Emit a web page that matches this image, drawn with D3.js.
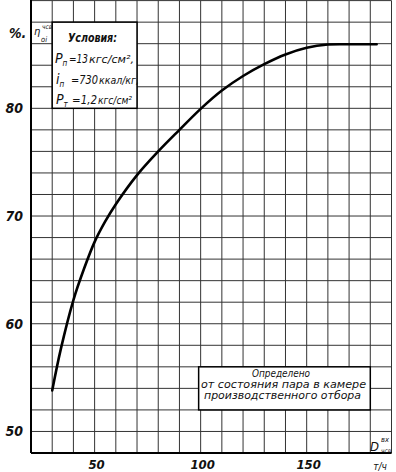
<!DOCTYPE html>
<html><head><meta charset="utf-8">
<script src="https://cdn.jsdelivr.net/npm/d3@7"></script>
<style>
html,body{margin:0;padding:0;background:#fff;}
text{font-family:"DejaVu Sans Condensed","DejaVu Sans",sans-serif;font-style:oblique;fill:#111;}
</style></head>
<body>
<svg id="c" width="396" height="472"></svg>
<script>
// Data
const flowValues = [30, 34, 40, 45, 50, 55, 60, 70, 80, 90, 100, 110, 120, 130, 140, 150, 160, 170, 183];
const efficiencyValues = [53.8, 57.6, 62.2, 65.1, 67.6, 69.5, 71.1, 73.8, 76.0, 78.0, 79.95, 81.65, 83.0, 84.1, 85.0, 85.62, 85.92, 85.95, 85.95];
const xTickLabels = [50, 100, 150];
const yTickLabels = [50, 60, 70, 80];
const xDomain = [20, 190];
const yDomain = [48, 90];
const conditionLines = [
  {sym: "P", sub: "п", val: "=13", unit: "кгс/см²,"},
  {sym: "i", sub: "п", val: "=730", unit: "ккал/кг,"},
  {sym: "P", sub: "т", val: "=1,2", unit: "кгс/см²"}
];
const noteLines = ["Определено", "от состояния пара в камере", "производственного   отбора"];

const svg = d3.select("#c");
const x = d3.scaleLinear().domain(xDomain).range([31, 391.5]);
const y = d3.scaleLinear().domain(yDomain).range([453, 0.6]);

// grid
const g = svg.append("g");
g.selectAll("line.v").data(d3.range(xDomain[0], xDomain[1] + 0.1, 10)).join("line")
  .attr("x1", d => x(d)).attr("x2", d => x(d)).attr("y1", y(yDomain[1])).attr("y2", y(yDomain[0]))
  .attr("stroke", "#333").attr("stroke-width", 1);
g.selectAll("line.h").data(d3.range(yDomain[0], yDomain[1] + 0.1, 2)).join("line")
  .attr("x1", x(xDomain[0])).attr("x2", x(xDomain[1])).attr("y1", d => y(d)).attr("y2", d => y(d))
  .attr("stroke", "#333").attr("stroke-width", 1);

// axes lines (thicker)
svg.append("line").attr("x1", x(20)).attr("x2", x(20)).attr("y1", 0).attr("y2", y(48)).attr("stroke", "#000").attr("stroke-width", 2);
svg.append("line").attr("x1", x(20)).attr("x2", x(190)).attr("y1", y(48)).attr("y2", y(48)).attr("stroke", "#000").attr("stroke-width", 2);

// conditions box (x 30-70, y 80-88)
svg.append("rect").attr("x", x(30)).attr("y", y(88)).attr("width", x(70) - x(30)).attr("height", y(80) - y(88))
  .attr("fill", "#fff").attr("stroke", "#000").attr("stroke-width", 1.5);
svg.append("text").attr("x", 68).attr("y", 42).attr("font-size", 13).attr("font-weight", "bold")
  .attr("textLength", 49).attr("lengthAdjust", "spacingAndGlyphs").text("Условия:");
const symX = [55, 56, 56], valX = [69, 71, 72], valW = [19, 27, 25], unitW = [45, 40, 34];
conditionLines.forEach((c, i) => {
  const by = 63 + i * 20.5;
  const t = svg.append("text").attr("x", symX[i]).attr("y", by).attr("font-size", 14);
  t.append("tspan").text(c.sym);
  t.append("tspan").attr("font-size", 8).attr("dy", 3).text(c.sub);
  svg.append("text").attr("x", valX[i]).attr("y", by).attr("font-size", 12)
    .attr("textLength", valW[i]).attr("lengthAdjust", "spacingAndGlyphs").text(c.val);
  svg.append("text").attr("x", valX[i] + valW[i] + 1).attr("y", by).attr("font-size", 10)
    .attr("textLength", unitW[i]).attr("lengthAdjust", "spacingAndGlyphs").text(c.unit);
});

// note box (x 100-180, y 52-56)
svg.append("rect").attr("x", x(100) - 2).attr("y", y(56)).attr("width", x(180) - x(100) + 2).attr("height", y(52) - y(56))
  .attr("fill", "#fff").attr("stroke", "#000").attr("stroke-width", 1.5);
const noteX = [252, 201, 204], noteW = [58, 165, 157], noteY = [377, 387.5, 399];
noteLines.forEach((s, i) => {
  svg.append("text").attr("x", noteX[i]).attr("y", noteY[i]).attr("font-size", 10)
    .attr("textLength", noteW[i]).attr("lengthAdjust", "spacingAndGlyphs").text(s);
});

// curve
const line = d3.line().x((d, i) => x(flowValues[i])).y(d => y(d)).curve(d3.curveCatmullRom.alpha(0.5));
svg.append("path").datum(efficiencyValues).attr("d", line).attr("fill", "none")
  .attr("stroke", "#000").attr("stroke-width", 2.6).attr("stroke-linecap", "round");

// tick labels
svg.selectAll("text.yl").data(yTickLabels).join("text")
  .attr("x", 23).attr("y", d => y(d) + 5).attr("text-anchor", "end")
  .attr("font-size", 14).attr("font-weight", "bold").text(d => d);
svg.selectAll("text.xl").data(xTickLabels).join("text")
  .attr("x", d => x(d) + 2).attr("y", 469).attr("text-anchor", "middle")
  .attr("font-size", 13).attr("font-weight", "bold").text(d => d);
svg.append("text").attr("x", 380).attr("y", 470).attr("text-anchor", "middle").attr("font-size", 10).text("т/ч");
svg.append("text").attr("x", 9).attr("y", 38).attr("font-size", 14).attr("font-weight", "bold").text("%.");

// y axis symbol in top-left cell
svg.append("text").attr("x", 34).attr("y", 35).attr("font-size", 11).text("η");
svg.append("text").attr("x", 42).attr("y", 29).attr("font-size", 6.5).text("чсв");
svg.append("text").attr("x", 41).attr("y", 42).attr("font-size", 7.5).text("oi");

// x axis symbol
svg.append("text").attr("x", 370).attr("y", 451).attr("font-size", 13).text("D");
svg.append("text").attr("x", 381).attr("y", 442).attr("font-size", 7.5).text("вх");
svg.append("text").attr("x", 381).attr("y", 452.5).attr("font-size", 6.5).text("чсв");
</script>
</body></html>
